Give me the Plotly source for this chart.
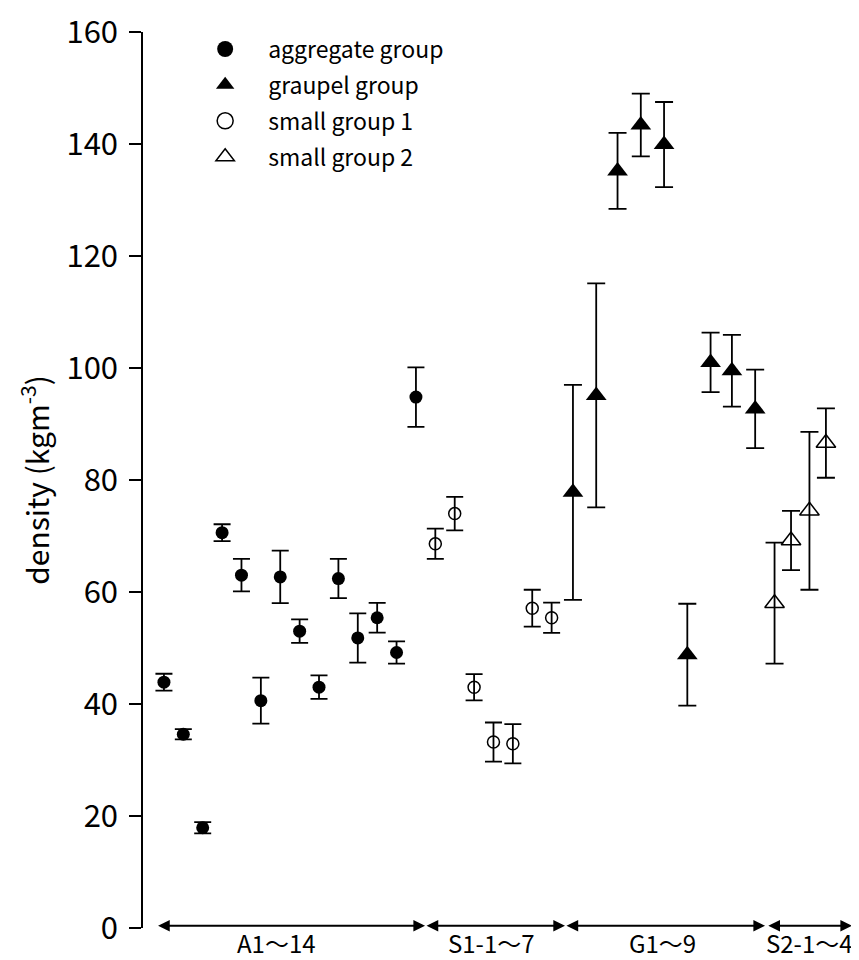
import plotly.graph_objects as go

# ---- data ----
agg_x = [1, 2, 3, 4, 5, 6, 7, 8, 9, 10, 11, 12, 13, 14]
agg_y = [43.9, 34.6, 17.9, 70.6, 63.0, 40.6, 62.7, 53.0, 43.0, 62.4, 51.8, 55.4, 49.2, 94.8]
agg_err = [1.5, 0.9, 1.0, 1.5, 2.9, 4.1, 4.7, 2.1, 2.1, 3.5, 4.4, 2.65, 2.0, 5.3]

s1_x = [15, 16, 17, 18, 19, 20, 21]
s1_y = [68.6, 74.0, 43.0, 33.2, 32.9, 57.1, 55.4]
s1_err = [2.7, 3.0, 2.35, 3.5, 3.5, 3.3, 2.7]

gr_x = [22.1, 23.3, 24.4, 25.6, 26.8, 28.0, 29.2, 30.3, 31.5]
gr_y = [77.8, 95.1, 135.2, 143.4, 139.9, 48.8, 101.0, 99.5, 92.7]
gr_err = [19.2, 20.0, 6.8, 5.6, 7.6, 9.1, 5.3, 6.4, 7.0]

s2_x = [32.5, 33.35, 34.3, 35.15]
s2_y = [58.0, 69.2, 74.5, 86.6]
s2_err = [10.8, 5.3, 14.1, 6.2]

series_names = ["aggregate group", "graupel group", "small group 1", "small group 2"]

group_labels = ["A1〜14", "S1-1〜7", "G1〜9", "S2-1〜4"]
group_start = [0.62, 14.47, 21.69, 32.10]
group_end = [14.47, 21.69, 32.01, 36.50]
label_x = [6.8, 17.9, 26.7, 34.3]

y_ticks = [0, 20, 40, 60, 80, 100, 120, 140, 160]

FONT = "Noto Sans CJK JP, Noto Sans, sans-serif"

fig = go.Figure()


def add_series(x, y, err, name, symbol, size, cap, lw, leg_size):
    # data marks
    fig.add_trace(go.Scatter(
        x=x, y=y, mode="markers", name=name, legendgroup=name,
        showlegend=False,
        marker=dict(symbol=symbol, size=size, color="black",
                    line=dict(color="black", width=lw)),
        error_y=dict(type="data", array=err, visible=True,
                     color="black", thickness=1.8, width=cap),
    ))
    # legend entry (larger symbol, as in the reference key)
    fig.add_trace(go.Scatter(
        x=[None], y=[None], mode="markers", name=name, legendgroup=name,
        showlegend=True,
        marker=dict(symbol=symbol, size=leg_size, color="black",
                    line=dict(color="black", width=lw)),
    ))


add_series(agg_x, agg_y, agg_err, series_names[0], "circle", 13, 8.5, 0, 16)
add_series(gr_x, gr_y, gr_err, series_names[1], "triangle-up", 18, 9, 0, 16)
add_series(s1_x, s1_y, s1_err, series_names[2], "circle-open", 12, 8.5, 1.5, 16)
add_series(s2_x, s2_y, s2_err, series_names[3], "triangle-up-open", 17, 9, 1.5, 16)

# group range arrows and labels under the points
for lab, xs, xe, xl in zip(group_labels, group_start, group_end, label_x):
    fig.add_annotation(
        x=xe, y=0.4, ax=xs, ay=0.4, xref="x", yref="y", axref="x", ayref="y",
        text="", showarrow=True, arrowside="end+start", arrowhead=2,
        arrowsize=1.3, arrowwidth=1.8, arrowcolor="black",
        standoff=0, startstandoff=0,
    )
    fig.add_annotation(
        x=xl, y=-0.0165, xref="x", yref="paper", text=lab, showarrow=False,
        xanchor="center", yanchor="middle", borderpad=0,
        font=dict(family=FONT, size=24, color="black"),
    )

fig.update_layout(
    width=851, height=952,
    margin=dict(l=135, r=4, t=24, b=32, autoexpand=False),
    plot_bgcolor="white", paper_bgcolor="white",
    font=dict(family=FONT, color="black"),
    showlegend=True,
    legend=dict(
        x=0.055, y=1.005, xanchor="left", yanchor="top",
        font=dict(family=FONT, size=23, color="black"),
        bgcolor="rgba(0,0,0,0)", itemwidth=76,
        traceorder="grouped", tracegroupgap=3,
    ),
    xaxis=dict(
        range=[-0.08, 36.65], showline=False, showgrid=False,
        zeroline=False, showticklabels=False, ticks="", automargin=False,
    ),
    yaxis=dict(
        range=[0, 160], tickmode="array", tickvals=y_ticks,
        ticktext=[str(v) for v in y_ticks], automargin=False,
        showline=True, linecolor="black", linewidth=1.5,
        ticks="outside", ticklen=12, tickwidth=1.5, tickcolor="black",
        showgrid=False, zeroline=False, ticklabelstandoff=5,
        ticklabeloverflow="allow",
        tickfont=dict(family=FONT, size=31, color="black"),
        title=dict(text="density (kgm<sup>-3</sup>)",
                   font=dict(family=FONT, size=30, color="black"),
                   standoff=8),
    ),
)

fig.write_html("out.html")
